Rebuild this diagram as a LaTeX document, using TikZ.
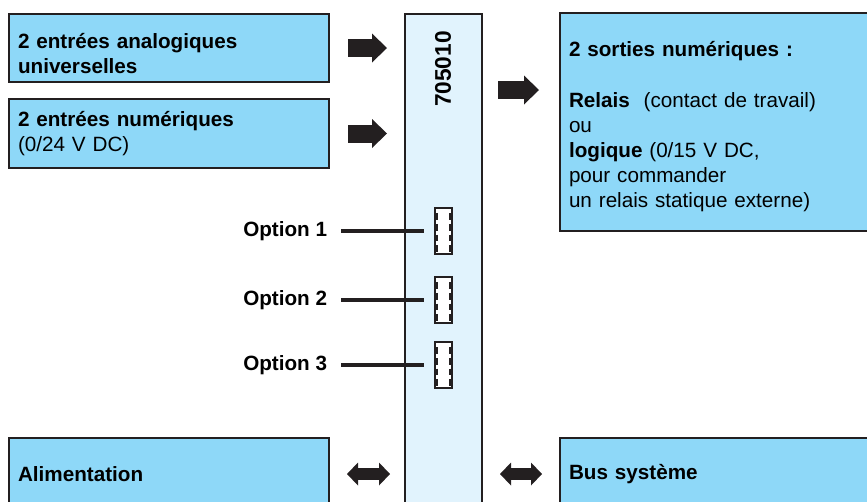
\documentclass[tikz,border=0pt]{standalone}
\usepackage{fontspec}
\setmainfont{Liberation Sans}
\usepackage{tikz}
\usetikzlibrary{positioning}
\usetikzlibrary{calc}
\usetikzlibrary{arrows.meta}

\definecolor{boxblue}{HTML}{8ED8F8}
\definecolor{modblue}{HTML}{E1F3FD}
\definecolor{ink}{HTML}{231F20}

\tikzset{
  bluebox/.style={draw=ink, fill=boxblue, line width=1.5pt, rectangle, minimum width=240pt, inner xsep=6.75pt, text width=226.5pt, align=left, font=\fontsize{15.5}{18.8}\selectfont},
  blockarrow/.style={ink, line width=13.5pt, -{Triangle[length=11.25pt, width=21.75pt, line width=0pt]}},
  dblarrow/.style={ink, line width=9pt, {Triangle[length=8.25pt, width=17.25pt, line width=0pt]}-{Triangle[length=8.25pt, width=17.25pt, line width=0pt]}},
  optslot/.style={draw=ink, fill=white, line width=1.5pt, minimum width=12.75pt, minimum height=34.5pt, inner sep=0pt,
    path picture={
      \draw[ink, line width=1.8pt, dash pattern=on 5pt off 3pt] ([xshift=1.4pt,yshift=-4pt]path picture bounding box.north west) -- ([xshift=1.4pt]path picture bounding box.south west);
      \draw[ink, line width=1.8pt, dash pattern=on 5pt off 3pt] ([xshift=-1.4pt,yshift=-4pt]path picture bounding box.north east) -- ([xshift=-1.4pt]path picture bounding box.south east);
    }},
  optlabel/.style={font=\bfseries\fontsize{15.5}{18.6}\selectfont, inner sep=0pt}
}

\begin{document}
\begin{tikzpicture}[x=0.75pt, y=-0.75pt]
  \useasboundingbox (0,0) rectangle (867,501);

  \node[draw=ink, fill=modblue, line width=1.5pt, minimum width=57.75pt, minimum height=372.75pt, inner sep=0pt] (mod) at (443.5,262) {};
  \node[rotate=90, font=\bfseries\fontsize{17}{17}\selectfont] (ref) at (443,69) {705010};

  \node[bluebox, minimum height=51pt, font=\bfseries\fontsize{15.5}{18.8}\selectfont] (ana) at (169,48) {\rule{0pt}{20pt}2 entrées analogiques\\universelles};
  \node[bluebox, minimum height=51.75pt] (num) at (169,133.5) {\textbf{2 entrées numériques}\\(0/24 V DC)};
  \node[bluebox, minimum height=163.5pt] (sor) at (720,122) {\rule{0pt}{18.5pt}\textbf{2 sorties numériques :}\\\mbox{}\\\textbf{Relais}\ \ (contact de travail)\\ou\\\textbf{logique} (0/15 V DC,\\pour commander\\un relais statique externe)};
  \node[bluebox, minimum height=54pt, font=\bfseries\fontsize{15.5}{18.8}\selectfont] (alim) at (169,474) {Alimentation};
  \node[bluebox, minimum height=54pt, font=\bfseries\fontsize{15.5}{18.8}\selectfont] (bus) at (720,474) {Bus système};
  \coordinate (outy) at (0,90);

  \node[optslot] (con1) at (443.5,231) {};
  \node[optslot] (con2) at (443.5,300) {};
  \node[optslot] (con3) at (443.5,365) {};
  \node[optlabel, left=80pt of con1] (opt1) {Option 1};
  \node[optlabel, left=80pt of con2] (opt2) {Option 2};
  \node[optlabel, left=80pt of con3] (opt3) {Option 3};

  \path[ink, line width=3pt, shorten <=10.5pt, shorten >=7.5pt] (opt1) edge (con1) (opt2) edge (con2) (opt3) edge (con3);

  \path[blockarrow, shorten <=13.5pt, shorten >=12.75pt] (ana.east) edge (ana.east -| mod.west);
  \path[blockarrow, shorten <=13.5pt, shorten >=12.75pt] (num.east) edge (num.east -| mod.west);
  \path[blockarrow, shorten <=11.25pt, shorten >=15pt] (mod.east |- outy) edge (sor.west |- outy);
  \path[dblarrow, shorten <=12.75pt, shorten >=10.5pt] (alim.east) edge (alim.east -| mod.west);
  \path[dblarrow, shorten <=12.75pt, shorten >=12.75pt] (mod.east |- bus.west) edge (bus.west);
\end{tikzpicture}
\end{document}
